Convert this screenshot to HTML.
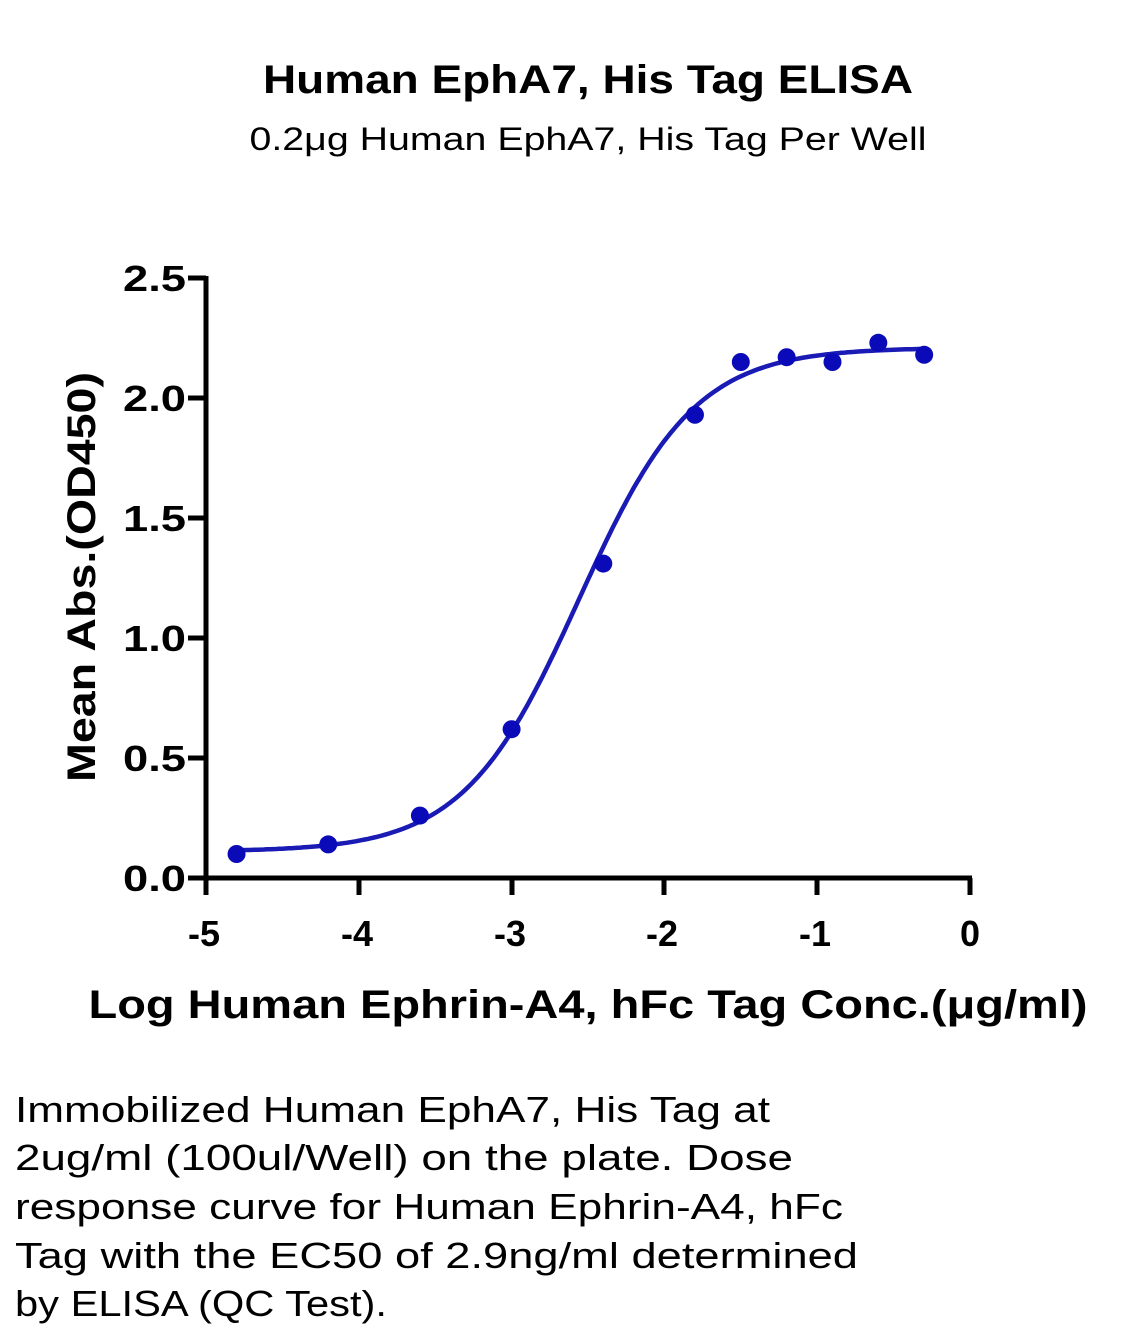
<!DOCTYPE html>
<html><head><meta charset="utf-8"><style>html,body{margin:0;padding:0;background:#fff}svg{display:block}</style></head>
<body>
<svg id="s" width="1133" height="1341" xmlns="http://www.w3.org/2000/svg" font-family="'Liberation Sans', sans-serif">
<text x="588" y="93" text-anchor="middle" font-weight="bold" font-size="40" textLength="650" lengthAdjust="spacingAndGlyphs">Human EphA7, His Tag ELISA</text>
<text x="588" y="150" text-anchor="middle" font-size="32" textLength="677" lengthAdjust="spacingAndGlyphs">0.2μg Human EphA7, His Tag Per Well</text>
<g stroke="#000" stroke-width="5" fill="none">
<line x1="206" y1="276" x2="206" y2="880"/>
<line x1="204" y1="878" x2="972" y2="878"/>
<line x1="188" y1="278" x2="206" y2="278"/>
<line x1="188" y1="398" x2="206" y2="398"/>
<line x1="188" y1="518" x2="206" y2="518"/>
<line x1="188" y1="638" x2="206" y2="638"/>
<line x1="188" y1="758" x2="206" y2="758"/>
<line x1="188" y1="878" x2="206" y2="878"/>
<line x1="206" y1="878" x2="206" y2="895"/>
<line x1="359" y1="878" x2="359" y2="895"/>
<line x1="512" y1="878" x2="512" y2="895"/>
<line x1="664" y1="878" x2="664" y2="895"/>
<line x1="817" y1="878" x2="817" y2="895"/>
<line x1="970" y1="878" x2="970" y2="895"/>
</g>
<g font-weight="bold" font-size="36" text-anchor="end">
<text x="186" y="291" textLength="63" lengthAdjust="spacingAndGlyphs">2.5</text><text x="186" y="411" textLength="63" lengthAdjust="spacingAndGlyphs">2.0</text><text x="186" y="531" textLength="63" lengthAdjust="spacingAndGlyphs">1.5</text>
<text x="186" y="651" textLength="63" lengthAdjust="spacingAndGlyphs">1.0</text><text x="186" y="771" textLength="63" lengthAdjust="spacingAndGlyphs">0.5</text><text x="186" y="891" textLength="63" lengthAdjust="spacingAndGlyphs">0.0</text>
</g>
<g font-weight="bold" font-size="36" text-anchor="middle">
<text x="204" y="946">-5</text><text x="357" y="946">-4</text><text x="510" y="946">-3</text>
<text x="662" y="946">-2</text><text x="815" y="946">-1</text><text x="970" y="946">0</text>
</g>
<text x="588" y="1018" text-anchor="middle" font-weight="bold" font-size="40" textLength="999" lengthAdjust="spacingAndGlyphs">Log Human Ephrin-A4, hFc Tag Conc.(μg/ml)</text>
<text transform="translate(95,577) rotate(-90)" text-anchor="middle" font-weight="bold" font-size="40" textLength="410" lengthAdjust="spacingAndGlyphs">Mean Abs.(OD450)</text>
<path id="curve" fill="none" stroke="#1a1ab4" stroke-width="4.5"/>
<g id="pts" fill="#0a0ab8"></g>
<g font-size="36">
<text x="15" y="1122" textLength="755" lengthAdjust="spacingAndGlyphs">Immobilized Human EphA7, His Tag at</text>
<text x="15" y="1170" textLength="778" lengthAdjust="spacingAndGlyphs">2ug/ml (100ul/Well) on the plate. Dose</text>
<text x="15" y="1219" textLength="828" lengthAdjust="spacingAndGlyphs">response curve for Human Ephrin-A4, hFc</text>
<text x="15" y="1268" textLength="843" lengthAdjust="spacingAndGlyphs">Tag with the EC50 of 2.9ng/ml determined</text>
<text x="15" y="1316" textLength="372" lengthAdjust="spacingAndGlyphs">by ELISA (QC Test).</text>
</g>
</svg>
<script>
var X=function(v){return 970+v*152.8},Y=function(v){return 878-v*240};
var f=function(x){return 0.11+(2.21-0.11)/(1+Math.pow(10,(-2.56-x)*1.15));};
var d="";for(var x=-4.8;x<=-0.299;x+=0.02){d+=(d?"L":"M")+X(x).toFixed(1)+","+Y(f(x)).toFixed(1);}
document.getElementById("curve").setAttribute("d",d);
var p=[[-4.8,0.10],[-4.2,0.14],[-3.6,0.26],[-3,0.62],[-2.4,1.31],[-1.8,1.93],[-1.5,2.15],[-1.2,2.17],[-0.9,2.15],[-0.6,2.23],[-0.3,2.18]];
var g=document.getElementById("pts"),h="";
p.forEach(function(q){h+='<circle cx="'+X(q[0])+'" cy="'+Y(q[1])+'" r="9"/>';});
g.innerHTML=h;
</script>
</body></html>
